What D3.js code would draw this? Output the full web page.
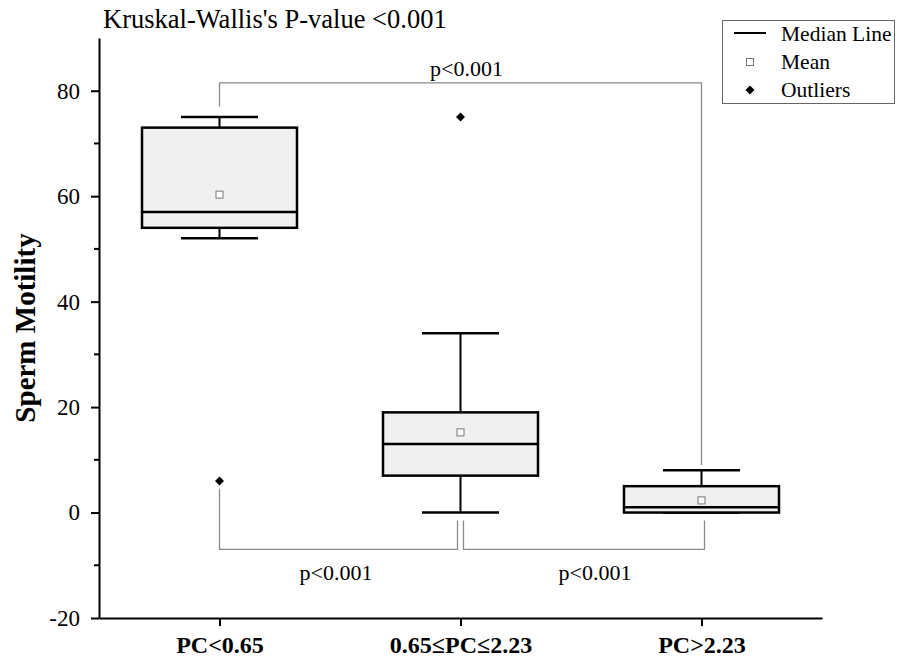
<!DOCTYPE html>
<html lang="en">
<head>
<meta charset="UTF-8">
<script src="https://d3js.org/d3.v7.min.js"></script>
<style>
  body { margin: 0; background: #fff; }
  text { font-family: "Liberation Serif", "Times New Roman", serif; }
</style>
</head>
<body>
<div id="chart"></div>
<script>
// data
var groups = ["PC<0.65", "0.65\u2264PC\u22642.23", "PC>2.23"];
var whiskerLow = [52, 0, 0];
var q1 = [54, 7, 0];
var median = [57, 13, 1];
var q3 = [73, 19, 5];
var whiskerHigh = [75, 34, 8];
var means = [60.3, 15.2, 2.3];
var outliers = [[6], [75], []];
var yTicks = [-20, 0, 20, 40, 60, 80];

var W = 906, H = 663;
var plotLeft = 99, plotRight = 822, plotTop = 38, plotBottom = 618;

var svg = d3.select("#chart").append("svg")
  .attr("width", W).attr("height", H);

var x = d3.scalePoint().domain(groups).range([plotLeft, plotRight]).padding(0.5);
var y = d3.scaleLinear().domain([-20, 90]).range([plotBottom, plotTop]);

var boxW = 155, capW = 77;

// axes
var yAxis = svg.append("g").attr("transform", "translate(" + plotLeft + ",0)")
  .call(d3.axisLeft(y).tickValues(yTicks).tickFormat(function(d) { return String(d); })
    .tickSize(8).tickPadding(11).tickSizeOuter(0));
yAxis.select(".domain").attr("stroke-width", 2);
yAxis.selectAll(".tick line").attr("stroke-width", 2);
yAxis.selectAll("text").style("font-size", "23px").attr("fill", "#000");

// minor ticks
svg.selectAll(".minor").data(d3.range(-10, 90, 20)).enter().append("line")
  .attr("x1", plotLeft - 5).attr("x2", plotLeft)
  .attr("y1", function(d) { return y(d); }).attr("y2", function(d) { return y(d); })
  .attr("stroke", "#000").attr("stroke-width", 2);

var xAxis = svg.append("g").attr("transform", "translate(0," + plotBottom + ")")
  .call(d3.axisBottom(x).tickSize(8).tickPadding(10).tickSizeOuter(0));
xAxis.select(".domain").attr("stroke-width", 2);
xAxis.selectAll(".tick line").attr("stroke-width", 2);
xAxis.selectAll("text").style("font-size", "24px").style("font-weight", "bold").attr("fill", "#000");

// y title
svg.append("text")
  .attr("transform", "translate(35," + y(35) + ") rotate(-90)")
  .attr("text-anchor", "middle")
  .style("font-size", "29px").style("font-weight", "bold")
  .text("Sperm Motility");

// title
svg.append("text").attr("x", 103).attr("y", 28)
  .style("font-size", "26.5px").text("Kruskal-Wallis's P-value <0.001");

// boxes
var box = svg.selectAll(".box").data(groups).enter().append("g").attr("class", "box");

box.append("line") // whisker
  .attr("x1", function(d) { return x(d); }).attr("x2", function(d) { return x(d); })
  .attr("y1", function(d, i) { return y(whiskerLow[i]); })
  .attr("y2", function(d, i) { return y(whiskerHigh[i]); })
  .attr("stroke", "#000").attr("stroke-width", 2);

box.append("line").attr("class", "capHi")
  .attr("x1", function(d) { return x(d) - capW / 2; }).attr("x2", function(d) { return x(d) + capW / 2; })
  .attr("y1", function(d, i) { return y(whiskerHigh[i]); })
  .attr("y2", function(d, i) { return y(whiskerHigh[i]); })
  .attr("stroke", "#000").attr("stroke-width", 2.5);

box.append("line").attr("class", "capLo")
  .attr("x1", function(d) { return x(d) - capW / 2; }).attr("x2", function(d) { return x(d) + capW / 2; })
  .attr("y1", function(d, i) { return y(whiskerLow[i]); })
  .attr("y2", function(d, i) { return y(whiskerLow[i]); })
  .attr("stroke", "#000").attr("stroke-width", 2.5);

box.append("rect")
  .attr("x", function(d) { return x(d) - boxW / 2; })
  .attr("width", boxW)
  .attr("y", function(d, i) { return y(q3[i]); })
  .attr("height", function(d, i) { return y(q1[i]) - y(q3[i]); })
  .attr("fill", "#f0f0f0").attr("stroke", "#000").attr("stroke-width", 2.5);

box.append("line")
  .attr("x1", function(d) { return x(d) - boxW / 2; }).attr("x2", function(d) { return x(d) + boxW / 2; })
  .attr("y1", function(d, i) { return y(median[i]); })
  .attr("y2", function(d, i) { return y(median[i]); })
  .attr("stroke", "#000").attr("stroke-width", 2.5);

box.append("rect")
  .attr("x", function(d) { return x(d) - 3.5; }).attr("width", 7)
  .attr("y", function(d, i) { return y(means[i]) - 3.5; }).attr("height", 7)
  .attr("fill", "#fff").attr("stroke", "#777").attr("stroke-width", 1);

// outliers
var diamond = d3.symbol().type(d3.symbolSquare).size(40);
groups.forEach(function(g, i) {
  svg.selectAll(null).data(outliers[i]).enter().append("path")
    .attr("d", diamond)
    .attr("transform", function(v) { return "translate(" + x(g) + "," + y(v) + ") rotate(45)"; })
    .attr("fill", "#000");
});

// significance brackets
var grey = "#8a8a8a";
function bracket(pts, label, lx, ly) {
  svg.append("path")
    .attr("d", d3.line()(pts))
    .attr("fill", "none").attr("stroke", grey).attr("stroke-width", 1.3);
  svg.append("text").attr("x", lx).attr("y", ly).attr("text-anchor", "middle")
    .style("font-size", "22px").text(label);
}
var g0 = x(groups[0]), g1 = x(groups[1]), g2 = x(groups[2]);
bracket([[g0, y(77)], [g0, y(81.5)], [g2, y(81.5)], [g2, y(9)]], "p<0.001", g1 + 6, 76);
bracket([[g0, y(4.5)], [g0, y(-7)], [g1 - 3, y(-7)], [g1 - 3, y(-1.5)]], "p<0.001", 336, 580);
bracket([[g1 + 3, y(-1.5)], [g1 + 3, y(-7)], [g2 + 3, y(-7)], [g2 + 3, y(-1.5)]], "p<0.001", 595, 580);

// legend
var lg = svg.append("g");
lg.append("rect").attr("x", 722.5).attr("y", 20.5).attr("width", 172).attr("height", 83)
  .attr("fill", "#fff").attr("stroke", "#666").attr("stroke-width", 1);
lg.append("line").attr("x1", 734).attr("x2", 766).attr("y1", 33).attr("y2", 33)
  .attr("stroke", "#000").attr("stroke-width", 2);
lg.append("rect").attr("x", 746.5).attr("y", 58.5).attr("width", 7).attr("height", 7)
  .attr("fill", "#fff").attr("stroke", "#777");
lg.append("path").attr("d", diamond).attr("transform", "translate(750,90) rotate(45)").attr("fill", "#000");
var labels = ["Median Line", "Mean", "Outliers"];
lg.selectAll(".lt").data(labels).enter().append("text")
  .attr("x", 781).attr("y", function(d, i) { return 41 + i * 28; })
  .style("font-size", "21.5px").text(function(d) { return d; });
</script>
</body>
</html>
